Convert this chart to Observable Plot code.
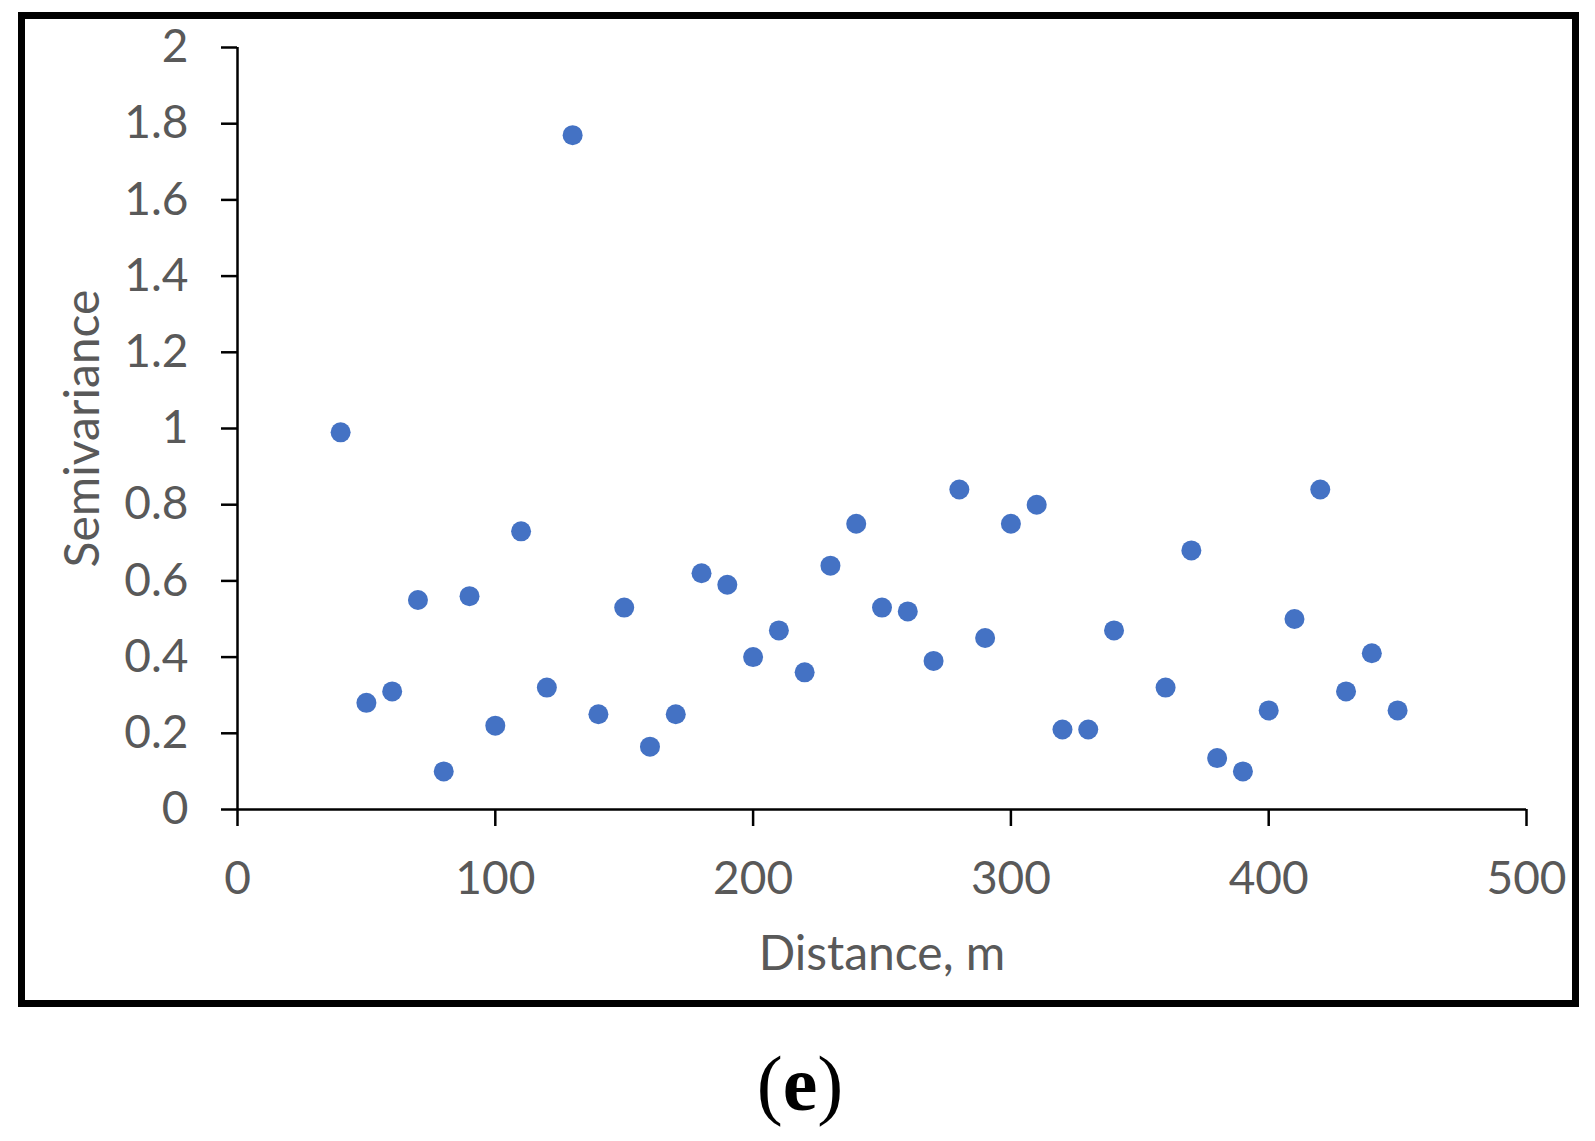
<!DOCTYPE html>
<html>
<head>
<meta charset="utf-8">
<script src="https://cdn.jsdelivr.net/npm/d3@7"></script>
<script src="https://cdn.jsdelivr.net/npm/@observablehq/plot@0.6"></script>
<style>
  html, body { margin: 0; padding: 0; background: #fff; }
  #frame { position: absolute; left: 18px; top: 12px; width: 1547px; height: 981px; border: 7px solid #000; background: #fff; }
  #frame svg { display: block; }
  #cap { position: absolute; left: 650px; width: 300px; top: 1045px; line-height: 78px; font-size: 78px;
         font-family: "Liberation Serif", "DejaVu Serif", serif; text-align: center; color: #000; }
</style>
</head>
<body>
<div id="frame"></div>
<div id="cap">(<b>e</b>)</div>
<script>
// Data
const distance = [40, 50, 60, 70, 80, 90, 100, 110, 120, 130, 140, 150, 160, 170, 180, 190, 200, 210, 220, 230,
                  240, 250, 260, 270, 280, 290, 300, 310, 320, 330, 340, 360, 370, 380, 390, 400, 410, 420, 430, 440, 450];
const semivariance = [0.99, 0.28, 0.31, 0.55, 0.10, 0.56, 0.22, 0.73, 0.32, 1.77, 0.25, 0.53, 0.165, 0.25, 0.62, 0.59, 0.40, 0.47, 0.36, 0.64,
                      0.75, 0.53, 0.52, 0.39, 0.84, 0.45, 0.75, 0.80, 0.21, 0.21, 0.47, 0.32, 0.68, 0.135, 0.10, 0.26, 0.50, 0.84, 0.31, 0.41, 0.26];
const xTicks = [0, 100, 200, 300, 400, 500];
const xTickLabels = ["0", "100", "200", "300", "400", "500"];
const yTicks = [0, 0.2, 0.4, 0.6, 0.8, 1, 1.2, 1.4, 1.6, 1.8, 2];
const yTickLabels = ["0", "0.2", "0.4", "0.6", "0.8", "1", "1.2", "1.4", "1.6", "1.8", "2"];
const xTitle = "Distance, m";
const yTitle = "Semivariance";

const data = distance.map((d, i) => ({distance: d, semivariance: semivariance[i]}));
const textColor = "#595959";
const font = "Lato, 'Open Sans', sans-serif";

const chart = Plot.plot({
  width: 1547,
  height: 981,
  marginLeft: 212,
  marginRight: 46,
  marginTop: 28,
  marginBottom: 191,
  style: {fontFamily: font, fontSize: "45px", background: "transparent", overflow: "visible"},
  x: {domain: [0, 500]},
  y: {domain: [0, 2]},
  marks: [
    Plot.axisX({ticks: xTicks, tickFormat: (d) => xTickLabels[xTicks.indexOf(d)], tickSize: 17, tickPadding: 35,
                stroke: "#000", strokeWidth: 2.5, fill: textColor, fontSize: 46, label: null}),
    Plot.axisY({ticks: yTicks, tickFormat: (d) => yTickLabels[yTicks.indexOf(d)], tickSize: 16, tickPadding: 33,
                stroke: "#000", strokeWidth: 2.5, fill: textColor, fontSize: 46, label: null}),
    Plot.ruleY([0], {stroke: "#000", strokeWidth: 2.5}),
    Plot.ruleX([0], {stroke: "#000", strokeWidth: 2.5}),
    Plot.dot(data, {x: "distance", y: "semivariance", r: 10, fill: "#4472C4", stroke: null}),
    Plot.text([xTitle], {frameAnchor: "bottom", textAnchor: "middle", dy: 160, fill: textColor, fontSize: 48}),
    Plot.text([yTitle], {frameAnchor: "left", textAnchor: "middle", lineAnchor: "middle", dx: -154, rotate: -90, fill: textColor, fontSize: 48})
  ]
});
document.getElementById("frame").appendChild(chart);
</script>
</body>
</html>
